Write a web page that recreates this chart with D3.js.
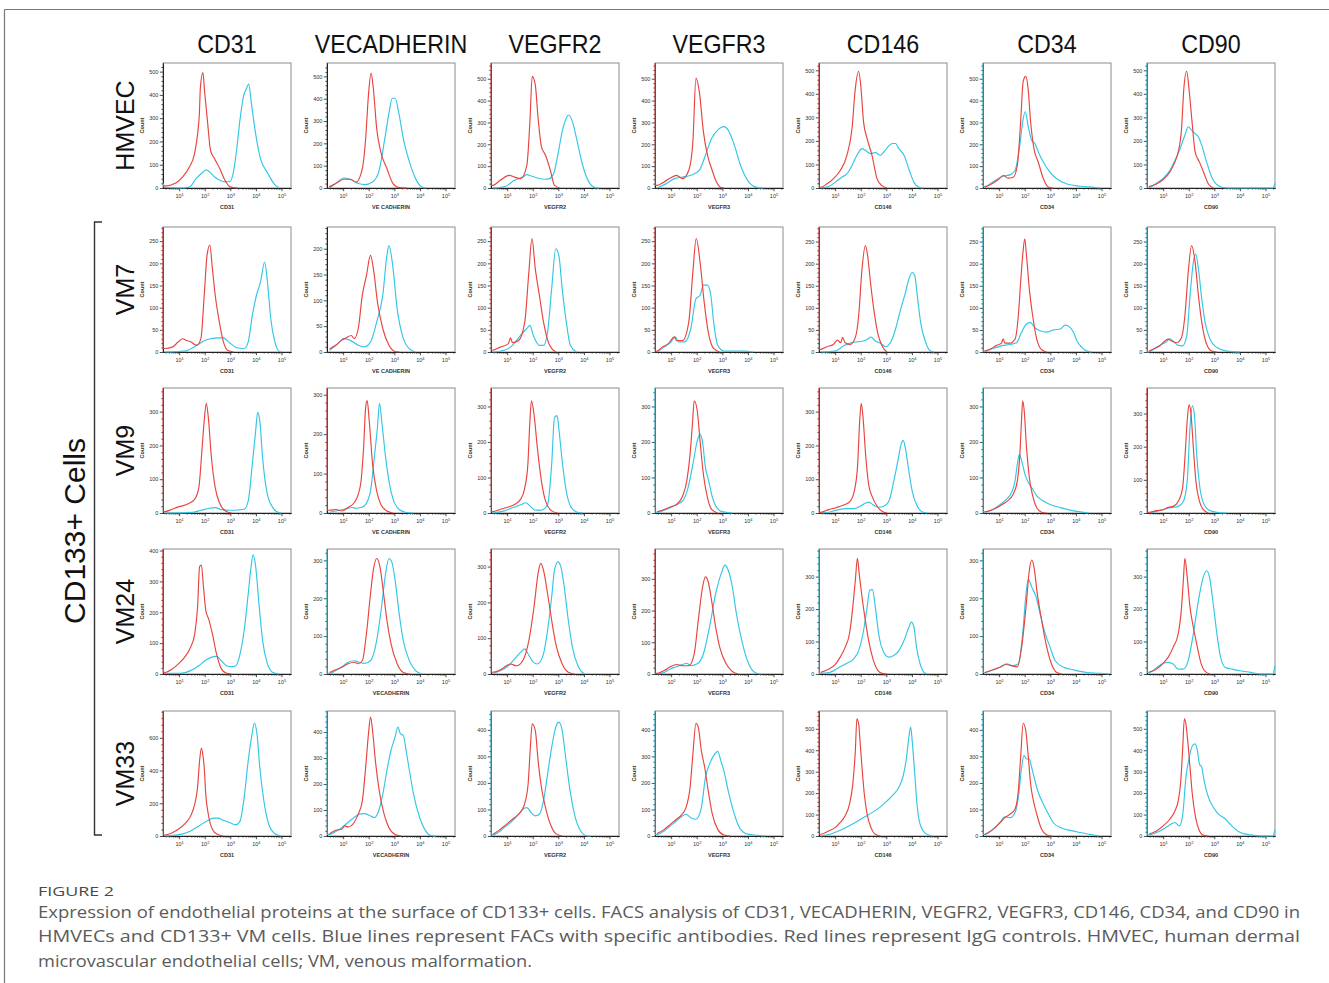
<!DOCTYPE html>
<html><head><meta charset="utf-8">
<script src="https://cdn.jsdelivr.net/npm/d3@7"></script>
<style>body{margin:0;background:#fff}svg{display:block}</style>
</head><body>
<svg id="chart" width="1329" height="983"></svg>
<script>
// ---------- DATA ----------
const markers = ["CD31","VECADHERIN","VEGFR2","VEGFR3","CD146","CD34","CD90"];
const cellLines = ["HMVEC","VM7","VM9","VM24","VM33"];
const axisTitles = [
  ["CD31","VE CADHERIN","VEGFR2","VEGFR3","CD146","CD34","CD90"],
  ["CD31","VE CADHERIN","VEGFR2","VEGFR3","CD146","CD34","CD90"],
  ["CD31","VE CADHERIN","VEGFR2","VEGFR3","CD146","CD34","CD90"],
  ["CD31","VECADHERIN","VEGFR2","VEGFR3","CD146","CD34","CD90"],
  ["CD31","VECADHERIN","VEGFR2","VEGFR3","CD146","CD34","CD90"]
];
const yMaxes = [
  [537,560,572,572,531,572,531],
  [282,242,282,282,283,283,283],
  [370,317,352,352,370,352,377],
  [405,330,349,394,385,330,385],
  [764,481,471,471,583,471,583]
];
const yTickSteps = [
  [100,100,100,100,100,100,100],
  [50,50,50,50,50,50,50],
  [100,100,100,100,100,100,100],
  [100,100,100,100,100,100,100],
  [200,100,100,100,100,100,100]
];
// series whose events pile up off-scale at the left edge (r = IgG, b = antibody)
const leftPileUp = [
  ["","","r","r","r","b","b"],
  ["r","","r","r","r","b","b"],
  ["r","r","r","b","r","b","r"],
  ["r","b","r","r","b","b","b"],
  ["r","b","b","b","r","b","b"]
];
// [log10 fluorescence, count]
const red_HMVEC = [
 [[0.4,12],[0.44,8],[0.87,21],[1.13,47],[1.4,90],[1.6,147],[1.73,240],[1.79,318],[1.83,431],[1.93,496],[1.99,420],[2.1,296],[2.23,160],[2.39,125],[2.59,83],[2.79,33],[2.99,5],[3.3,0]],
 [[0.45,5],[0.71,20],[1.03,39],[1.27,39],[1.51,27],[1.75,87],[1.88,222],[1.99,417],[2.09,515],[2.18,447],[2.31,267],[2.47,162],[2.71,87],[2.95,20],[3.19,2],[3.5,0]],
 [[0.44,12],[0.73,35],[1.08,58],[1.29,50],[1.53,43],[1.77,104],[1.89,304],[1.98,511],[2.1,472],[2.21,319],[2.34,189],[2.5,150],[2.69,81],[2.85,12],[3.06,0]],
 [[0.45,12],[0.73,28],[0.97,46],[1.21,58],[1.45,43],[1.69,81],[1.85,212],[1.97,503],[2.1,442],[2.26,258],[2.42,150],[2.58,89],[2.74,35],[2.9,5],[3.06,0]],
 [[0.44,3],[0.67,17],[0.93,39],[1.2,74],[1.46,139],[1.66,253],[1.79,424],[1.92,496],[2.01,424],[2.11,281],[2.25,210],[2.44,139],[2.64,39],[2.83,10],[3.03,0]],
 [[0.44,3],[0.7,18],[0.96,38],[1.16,57],[1.35,45],[1.55,49],[1.71,103],[1.84,303],[1.94,488],[2.04,511],[2.13,457],[2.23,303],[2.36,180],[2.53,118],[2.73,42],[2.93,3],[3.12,0]],
 [[0.45,6],[0.74,17],[1.0,36],[1.26,67],[1.46,110],[1.59,153],[1.72,253],[1.81,424],[1.92,496],[2.02,410],[2.13,281],[2.25,153],[2.42,110],[2.58,67],[2.77,17],[2.97,0]]
];
const blue_HMVEC = [
 [[0.38,20],[0.42,2],[1.0,0],[1.4,4],[1.66,40],[1.86,61],[2.06,78],[2.2,68],[2.39,47],[2.59,33],[2.79,26],[2.99,28],[3.12,68],[3.25,168],[3.38,296],[3.52,396],[3.62,425],[3.72,446],[3.82,367],[3.98,239],[4.18,125],[4.44,68],[4.71,18],[4.9,0]],
 [[0.47,0],[0.71,20],[1.03,45],[1.27,39],[1.6,20],[1.83,15],[2.15,27],[2.39,72],[2.63,222],[2.79,335],[2.92,402],[3.03,402],[3.19,327],[3.35,222],[3.59,117],[3.83,42],[4.07,5],[4.23,0]],
 [[0.44,0],[0.89,5],[1.29,35],[1.61,50],[1.77,61],[1.94,55],[2.18,46],[2.5,40],[2.66,43],[2.82,66],[2.98,150],[3.15,258],[3.31,319],[3.39,334],[3.55,304],[3.71,227],[3.95,104],[4.19,28],[4.44,2],[4.6,0]],
 [[0.45,0],[0.81,20],[1.13,43],[1.45,50],[1.77,58],[2.1,81],[2.34,150],[2.58,227],[2.82,265],[3.06,281],[3.23,265],[3.47,196],[3.71,104],[4.03,28],[4.35,3],[4.6,0]],
 [[0.44,0],[0.74,6],[1.0,24],[1.26,46],[1.46,60],[1.66,96],[1.85,139],[2.05,167],[2.18,160],[2.38,146],[2.57,150],[2.77,139],[2.9,153],[3.1,179],[3.23,189],[3.36,189],[3.49,167],[3.69,139],[3.88,81],[4.08,24],[4.28,3],[4.41,0]],
 [[0.44,6],[0.7,23],[0.96,42],[1.16,54],[1.42,60],[1.62,80],[1.79,180],[1.92,303],[2.02,349],[2.14,280],[2.27,218],[2.4,203],[2.53,165],[2.73,118],[2.99,72],[3.25,42],[3.65,18],[4.17,8],[4.7,3],[4.96,0]],
 [[0.44,3],[0.74,20],[1.0,41],[1.26,74],[1.46,117],[1.66,167],[1.85,224],[1.98,260],[2.11,246],[2.25,231],[2.38,217],[2.51,181],[2.7,110],[2.9,46],[3.16,10],[3.49,0],[5.28,0],[5.37,20]]
];
const red_VM7 = [
 [[0.44,8],[0.73,11],[0.97,23],[1.13,30],[1.29,26],[1.45,23],[1.69,15],[1.85,30],[1.98,128],[2.09,218],[2.2,241],[2.3,188],[2.41,128],[2.57,68],[2.73,23],[2.89,4],[3.13,0]],
 [[0.47,6],[0.71,13],[0.95,23],[1.11,27],[1.32,32],[1.43,26],[1.59,45],[1.75,110],[1.91,148],[2.07,187],[2.2,155],[2.34,97],[2.55,45],[2.79,13],[3.03,1],[3.2,0]],
 [[0.44,4],[0.73,11],[1.05,19],[1.13,32],[1.21,21],[1.45,26],[1.69,68],[1.85,181],[1.97,256],[2.1,188],[2.26,128],[2.42,68],[2.66,15],[2.9,0]],
 [[0.45,2],[0.65,11],[0.89,19],[1.13,34],[1.21,26],[1.45,26],[1.69,68],[1.85,181],[1.98,256],[2.13,203],[2.29,113],[2.45,45],[2.66,8],[2.9,0]],
 [[0.44,6],[0.67,12],[0.93,17],[1.09,27],[1.22,21],[1.29,33],[1.39,21],[1.59,17],[1.79,33],[1.92,82],[2.05,188],[2.18,241],[2.27,218],[2.38,158],[2.51,97],[2.66,44],[2.83,14],[3.03,0]],
 [[0.44,2],[0.7,8],[0.9,15],[1.09,20],[1.16,30],[1.22,20],[1.42,20],[1.62,29],[1.75,82],[1.84,158],[1.92,218],[2.0,256],[2.07,218],[2.18,143],[2.31,82],[2.47,29],[2.66,5],[2.86,0]],
 [[0.45,2],[0.67,8],[0.87,14],[1.07,25],[1.2,29],[1.33,25],[1.52,21],[1.72,33],[1.85,82],[1.98,180],[2.11,241],[2.25,203],[2.38,127],[2.51,67],[2.68,21],[2.9,2],[3.1,0]]
];
const blue_VM7 = [
 [[0.44,0],[1.2,2],[1.69,15],[2.0,26],[2.25,30],[2.49,32],[2.73,32],[2.97,21],[3.3,9],[3.54,8],[3.7,23],[3.86,83],[4.02,128],[4.18,158],[4.34,203],[4.45,158],[4.58,75],[4.74,23],[4.9,2],[5.0,0]],
 [[0.47,3],[0.79,16],[1.03,26],[1.27,23],[1.59,13],[1.83,10],[2.07,19],[2.31,58],[2.55,110],[2.71,187],[2.79,206],[2.92,174],[3.11,84],[3.35,26],[3.59,6],[3.83,0]],
 [[0.44,0],[0.89,4],[1.21,15],[1.53,38],[1.77,53],[1.89,60],[2.02,38],[2.26,15],[2.42,15],[2.58,45],[2.74,143],[2.9,233],[3.02,218],[3.15,143],[3.31,68],[3.47,15],[3.71,0]],
 [[0.45,0],[0.73,11],[0.97,21],[1.16,34],[1.29,23],[1.53,23],[1.77,53],[1.97,120],[2.13,128],[2.26,151],[2.42,151],[2.55,128],[2.66,68],[2.82,15],[3.06,2],[3.87,2],[4.2,0]],
 [[0.44,0],[1.0,2],[1.33,14],[1.59,20],[1.85,23],[2.11,25],[2.27,29],[2.4,34],[2.57,25],[2.77,20],[2.97,12],[3.16,21],[3.36,52],[3.56,97],[3.75,135],[3.88,165],[4.01,180],[4.11,173],[4.21,127],[4.34,67],[4.54,21],[4.73,2],[4.87,0]],
 [[0.44,2],[0.76,8],[1.09,14],[1.42,17],[1.68,21],[1.84,40],[2.01,59],[2.21,67],[2.4,55],[2.6,48],[2.86,45],[3.12,50],[3.39,52],[3.58,61],[3.78,55],[3.91,44],[4.04,25],[4.24,10],[4.43,2],[4.63,0]],
 [[0.45,0],[0.67,8],[0.93,17],[1.13,23],[1.26,30],[1.39,25],[1.59,15],[1.76,14],[1.92,36],[2.05,127],[2.18,203],[2.27,222],[2.38,188],[2.51,120],[2.64,67],[2.83,29],[3.1,10],[3.49,2],[4.0,0]]
];
const red_VM9 = [
 [[0.44,4],[0.73,11],[0.97,18],[1.13,21],[1.37,28],[1.61,41],[1.77,75],[1.88,174],[1.98,273],[2.06,325],[2.14,283],[2.25,174],[2.41,75],[2.57,31],[2.81,6],[3.05,0]],
 [[0.47,7],[0.71,9],[0.95,5],[1.19,14],[1.43,26],[1.59,47],[1.7,81],[1.8,166],[1.88,268],[1.94,285],[2.02,234],[2.15,124],[2.31,56],[2.47,22],[2.71,5],[2.95,0]],
 [[0.44,4],[0.73,10],[1.05,17],[1.29,24],[1.53,39],[1.69,71],[1.81,137],[1.89,259],[1.95,316],[2.05,278],[2.18,184],[2.34,90],[2.5,34],[2.74,6],[2.98,0]],
 [[0.45,3],[0.73,10],[0.97,17],[1.21,24],[1.45,48],[1.61,90],[1.74,165],[1.84,259],[1.9,316],[2.02,288],[2.13,203],[2.26,109],[2.42,43],[2.58,10],[2.82,0]],
 [[0.44,2],[0.74,10],[1.0,15],[1.2,20],[1.39,25],[1.59,35],[1.75,65],[1.88,144],[1.96,273],[2.02,325],[2.09,283],[2.19,174],[2.31,84],[2.44,50],[2.64,20],[2.83,5],[3.03,0]],
 [[0.44,3],[0.76,10],[1.03,20],[1.29,32],[1.55,53],[1.71,90],[1.81,165],[1.88,269],[1.92,316],[1.98,288],[2.07,184],[2.18,100],[2.31,48],[2.47,15],[2.66,2],[2.86,0]],
 [[0.45,2],[0.74,7],[1.0,10],[1.2,17],[1.39,20],[1.59,35],[1.76,76],[1.86,177],[1.94,278],[2.01,326],[2.09,298],[2.18,197],[2.28,96],[2.42,35],[2.57,10],[2.77,0]]
];
const blue_VM9 = [
 [[0.44,0],[1.53,2],[1.85,8],[2.17,14],[2.41,16],[2.65,10],[2.97,8],[3.3,9],[3.54,11],[3.7,36],[3.86,145],[3.99,244],[4.07,298],[4.15,273],[4.26,164],[4.42,65],[4.66,16],[4.9,1],[5.0,0]],
 [[0.47,2],[0.87,7],[1.19,12],[1.35,14],[1.51,12],[1.7,14],[1.86,20],[2.07,56],[2.23,149],[2.34,217],[2.42,278],[2.52,225],[2.66,141],[2.79,81],[2.95,35],[3.19,9],[3.43,2],[3.75,0]],
 [[0.44,0],[0.89,6],[1.21,15],[1.53,23],[1.73,29],[1.89,20],[2.1,8],[2.34,8],[2.58,24],[2.74,137],[2.85,269],[2.95,274],[3.03,231],[3.15,147],[3.31,62],[3.47,20],[3.71,3],[3.95,0]],
 [[0.45,2],[0.73,8],[0.97,15],[1.21,23],[1.45,34],[1.66,71],[1.85,137],[2.02,203],[2.13,222],[2.23,198],[2.34,128],[2.47,90],[2.58,53],[2.74,20],[2.98,4],[3.39,0]],
 [[0.44,0],[0.8,3],[1.13,10],[1.46,13],[1.72,13],[1.98,20],[2.18,29],[2.31,32],[2.51,23],[2.7,17],[2.9,20],[3.1,35],[3.29,94],[3.45,154],[3.58,204],[3.66,215],[3.75,189],[3.88,124],[4.01,65],[4.21,20],[4.41,3],[4.6,0]],
 [[0.44,3],[0.76,10],[1.03,23],[1.29,39],[1.48,57],[1.62,90],[1.71,137],[1.79,165],[1.88,147],[2.01,109],[2.18,81],[2.31,67],[2.47,48],[2.73,34],[2.99,24],[3.39,15],[3.78,8],[4.17,3],[4.5,0]],
 [[0.45,0],[0.74,5],[1.0,10],[1.2,15],[1.39,17],[1.59,20],[1.79,35],[1.94,96],[2.05,258],[2.14,323],[2.22,298],[2.31,177],[2.42,86],[2.55,35],[2.77,10],[3.1,2],[3.49,0]]
];
const red_VM24 = [
 [[0.44,5],[0.73,16],[0.97,33],[1.21,54],[1.45,87],[1.61,130],[1.72,217],[1.8,348],[1.87,353],[1.95,283],[2.04,207],[2.17,174],[2.3,130],[2.46,65],[2.62,22],[2.81,4],[3.05,0]],
 [[0.47,4],[0.71,11],[0.95,18],[1.19,27],[1.43,31],[1.59,27],[1.75,35],[1.91,106],[2.07,212],[2.18,274],[2.31,305],[2.44,283],[2.58,212],[2.71,142],[2.87,80],[3.11,27],[3.35,4],[3.59,0]],
 [[0.44,5],[0.73,11],[0.97,23],[1.13,28],[1.37,23],[1.61,37],[1.85,94],[2.05,187],[2.21,281],[2.31,309],[2.42,290],[2.58,224],[2.74,150],[2.9,84],[3.15,28],[3.39,5],[3.63,0]],
 [[0.45,2],[0.73,11],[0.97,23],[1.21,30],[1.45,26],[1.69,26],[1.9,63],[2.06,169],[2.23,275],[2.34,306],[2.45,290],[2.58,232],[2.74,148],[2.9,84],[3.15,32],[3.39,8],[3.63,0]],
 [[0.44,5],[0.74,15],[1.0,29],[1.2,52],[1.39,82],[1.56,124],[1.69,206],[1.79,289],[1.87,356],[1.94,309],[2.05,237],[2.18,165],[2.31,103],[2.48,46],[2.66,12],[2.83,2],[3.03,0]],
 [[0.44,4],[0.76,11],[1.03,18],[1.29,25],[1.48,22],[1.71,19],[1.88,71],[2.05,177],[2.18,274],[2.27,301],[2.36,283],[2.49,212],[2.66,142],[2.83,80],[3.02,31],[3.25,4],[3.45,0]],
 [[0.45,5],[0.74,15],[1.0,33],[1.2,52],[1.39,82],[1.59,124],[1.72,206],[1.79,289],[1.85,356],[1.94,299],[2.05,206],[2.18,144],[2.31,93],[2.47,36],[2.64,8],[2.83,0]]
];
const blue_VM24 = [
 [[0.38,18],[0.42,2],[1.05,2],[1.45,11],[1.77,27],[2.01,43],[2.25,54],[2.46,57],[2.65,43],[2.85,27],[3.05,24],[3.22,27],[3.38,65],[3.54,141],[3.7,261],[3.81,348],[3.89,386],[3.99,348],[4.13,217],[4.26,109],[4.45,33],[4.66,5],[4.9,0]],
 [[0.47,2],[0.71,9],[0.95,19],[1.19,31],[1.43,35],[1.64,31],[1.83,28],[2.07,35],[2.31,88],[2.5,177],[2.66,266],[2.79,305],[2.9,296],[3.03,248],[3.19,159],[3.35,88],[3.59,35],[3.83,9],[4.07,0]],
 [[0.44,2],[0.73,9],[1.05,23],[1.29,42],[1.53,61],[1.69,70],[1.82,56],[2.02,33],[2.18,28],[2.42,56],[2.58,122],[2.74,215],[2.85,290],[2.98,313],[3.1,299],[3.23,243],[3.39,150],[3.55,75],[3.79,19],[4.03,0]],
 [[0.45,0],[0.73,5],[0.97,16],[1.21,23],[1.45,30],[1.61,34],[1.77,26],[2.02,32],[2.26,63],[2.5,148],[2.74,253],[2.98,322],[3.1,343],[3.23,327],[3.39,275],[3.55,190],[3.79,95],[4.03,32],[4.27,5],[4.52,0]],
 [[0.44,2],[0.8,5],[1.13,19],[1.46,33],[1.72,46],[1.92,72],[2.09,124],[2.25,206],[2.35,258],[2.46,260],[2.57,206],[2.7,124],[2.9,67],[3.1,52],[3.29,57],[3.49,72],[3.69,103],[3.88,144],[3.98,160],[4.08,144],[4.18,82],[4.32,31],[4.47,5],[4.6,0]],
 [[0.44,4],[0.76,11],[1.03,18],[1.29,27],[1.55,22],[1.75,27],[1.92,106],[2.05,212],[2.14,250],[2.27,230],[2.44,204],[2.6,159],[2.8,106],[2.99,71],[3.19,35],[3.52,18],[3.91,11],[4.43,4],[4.96,2],[5.29,0]],
 [[0.45,5],[0.74,19],[1.0,33],[1.2,36],[1.39,31],[1.59,15],[1.79,15],[1.98,41],[2.18,124],[2.38,227],[2.57,299],[2.7,318],[2.81,299],[2.94,227],[3.1,124],[3.23,57],[3.42,21],[3.69,15],[4.01,10],[4.41,5],[4.8,0],[5.28,0],[5.37,25]]
];
const red_VM33 = [
 [[0.44,6],[0.73,20],[0.97,41],[1.21,72],[1.45,123],[1.61,195],[1.72,297],[1.8,461],[1.87,537],[1.93,492],[1.98,420],[2.04,256],[2.14,133],[2.3,41],[2.49,10],[2.73,0]],
 [[0.47,9],[0.71,22],[0.95,26],[1.06,39],[1.19,35],[1.43,52],[1.59,84],[1.75,135],[1.88,264],[1.99,393],[2.07,458],[2.15,406],[2.26,290],[2.41,174],[2.6,84],[2.79,32],[3.03,6],[3.27,0]],
 [[0.44,6],[0.73,25],[0.97,44],[1.21,63],[1.45,82],[1.66,114],[1.82,196],[1.9,322],[1.98,423],[2.1,398],[2.21,284],[2.34,183],[2.5,107],[2.69,44],[2.9,9],[3.15,0]],
 [[0.45,9],[0.73,25],[0.97,44],[1.21,63],[1.37,76],[1.58,107],[1.74,183],[1.85,309],[1.97,425],[2.06,410],[2.18,322],[2.31,259],[2.45,170],[2.61,82],[2.82,25],[3.06,4],[3.31,0]],
 [[0.44,8],[0.74,23],[1.0,39],[1.2,63],[1.39,94],[1.56,148],[1.69,242],[1.79,398],[1.85,547],[1.92,523],[1.98,430],[2.05,320],[2.14,195],[2.25,102],[2.4,39],[2.57,8],[2.77,0]],
 [[0.44,6],[0.76,25],[1.03,50],[1.22,69],[1.42,82],[1.62,101],[1.75,170],[1.84,297],[1.94,425],[2.04,398],[2.13,309],[2.23,196],[2.34,132],[2.47,82],[2.66,25],[2.86,4],[3.06,0]],
 [[0.45,8],[0.74,23],[1.0,47],[1.26,78],[1.46,117],[1.59,164],[1.69,258],[1.76,398],[1.83,547],[1.89,523],[1.96,445],[2.05,320],[2.14,195],[2.27,86],[2.42,23],[2.57,3],[2.77,0]]
];
const blue_VM33 = [
 [[0.44,0],[1.05,10],[1.45,31],[1.77,61],[2.09,92],[2.33,109],[2.52,109],[2.73,96],[2.97,82],[3.22,68],[3.38,92],[3.54,236],[3.7,461],[3.83,604],[3.94,690],[4.04,625],[4.15,420],[4.31,215],[4.5,72],[4.74,14],[4.98,0]],
 [[0.47,6],[0.71,17],[0.95,32],[1.19,52],[1.43,71],[1.64,84],[1.83,86],[2.07,77],[2.23,71],[2.39,97],[2.55,161],[2.71,252],[2.87,329],[3.03,381],[3.14,419],[3.24,393],[3.35,387],[3.46,329],[3.59,252],[3.75,161],[3.99,71],[4.23,19],[4.47,1],[4.63,0]],
 [[0.44,4],[0.73,19],[0.97,38],[1.21,57],[1.45,82],[1.61,101],[1.77,107],[1.94,88],[2.1,76],[2.26,82],[2.42,132],[2.58,233],[2.74,334],[2.9,410],[3.02,429],[3.15,398],[3.27,309],[3.44,183],[3.63,82],[3.87,19],[4.11,1],[4.27,0]],
 [[0.45,6],[0.73,19],[0.97,38],[1.21,57],[1.45,76],[1.58,82],[1.77,69],[1.97,63],[2.18,107],[2.34,221],[2.5,271],[2.66,303],[2.82,319],[2.94,284],[3.06,246],[3.23,170],[3.47,82],[3.71,25],[4.03,6],[4.35,3],[4.68,0]],
 [[0.44,0],[0.8,8],[1.13,23],[1.46,42],[1.79,63],[2.11,86],[2.44,109],[2.77,136],[3.03,164],[3.29,195],[3.49,227],[3.66,281],[3.79,367],[3.88,461],[3.95,508],[4.01,445],[4.11,289],[4.21,133],[4.34,47],[4.54,11],[4.8,0]],
 [[0.44,6],[0.76,25],[1.03,50],[1.22,72],[1.42,69],[1.62,88],[1.75,145],[1.88,259],[1.97,303],[2.07,290],[2.18,290],[2.27,259],[2.4,208],[2.53,164],[2.73,120],[2.93,82],[3.12,50],[3.39,32],[3.78,21],[4.17,13],[4.56,6],[4.89,0]],
 [[0.45,5],[0.74,16],[1.0,31],[1.26,52],[1.46,63],[1.63,47],[1.76,94],[1.89,273],[2.02,367],[2.15,422],[2.25,430],[2.34,398],[2.42,336],[2.51,320],[2.6,258],[2.77,180],[2.97,133],[3.16,102],[3.36,86],[3.56,63],[3.75,39],[4.01,16],[4.41,5],[4.8,0],[5.28,0],[5.37,30]]
];
const captionHead = "FIGURE 2";
const captionLines = [
  "Expression of endothelial proteins at the surface of CD133+ cells. FACS analysis of CD31, VECADHERIN, VEGFR2, VEGFR3, CD146, CD34, and CD90 in",
  "HMVECs and CD133+ VM cells. Blue lines represent FACs with specific antibodies. Red lines represent IgG controls. HMVEC, human dermal",
  "microvascular endothelial cells; VM, venous malformation."
];
const groupLabel = "CD133+ Cells";

// ---------- LAYOUT / STYLE ----------
const RED = "#e8443f", BLUE = "#33c6e6";
const W = 128, H = 125;
const rowTops = [63, 227, 388, 549, 711];
const colLeft = c => 163 + c * 164;
const LOGMIN = 0.37, LOGMAX = 5.37;
const FONT = "'Liberation Sans', Arial, sans-serif";

const redRows = [red_HMVEC, red_VM7, red_VM9, red_VM24, red_VM33];
const blueRows = [blue_HMVEC, blue_VM7, blue_VM9, blue_VM24, blue_VM33];

const svg = d3.select("#chart");
svg.append("rect").attr("width",1329).attr("height",983).attr("fill","#fff");
const defs = svg.append("defs");

// figure frame lines
svg.append("line").attr("x1",4.5).attr("x2",1329).attr("y1",9.5).attr("y2",9.5).attr("stroke","#777").attr("stroke-width",1.2);
svg.append("line").attr("x1",4.5).attr("x2",4.5).attr("y1",9.5).attr("y2",983).attr("stroke","#777").attr("stroke-width",1.2);

function squeeze(sel, f){
  const n = sel.node(); const len = n.getComputedTextLength();
  sel.attr("textLength", len*f).attr("lengthAdjust","spacingAndGlyphs");
}

// column titles
markers.forEach((m,c)=>{
  const t = svg.append("text").attr("x", colLeft(c)+W/2).attr("y", 53)
    .attr("text-anchor","middle").attr("font-family",FONT).attr("font-size",25).attr("fill","#111").text(m);
  squeeze(t, 0.93);
});
// row labels
cellLines.forEach((r,i)=>{
  svg.append("text").attr("transform",`translate(134,${rowTops[i]+H/2}) rotate(-90)`)
    .attr("text-anchor","middle").attr("font-family",FONT).attr("font-size",25).attr("fill","#111").text(r);
});
// group label and bracket
svg.append("text").attr("transform","translate(85,531) rotate(-90)").attr("text-anchor","middle")
  .attr("font-family",FONT).attr("font-size",30).attr("fill","#111").text(groupLabel);
svg.append("path").attr("d","M102,222H94.5V835H102").attr("fill","none").attr("stroke","#333").attr("stroke-width",1.4);

const xMajor = [1e1,1e2,1e3,1e4,1e5];
const xMinor = [];
for (let e=0;e<=5;e++) for (let k=2;k<=9;k++){ const v=k*Math.pow(10,e); if (Math.log10(v)>LOGMIN && Math.log10(v)<LOGMAX) xMinor.push(v); }

function styleAxis(g){
  g.attr("font-family",FONT).attr("font-size",5.5);
  g.select(".domain").attr("stroke","#222").attr("stroke-width",1);
  g.selectAll(".tick line").attr("stroke","#222").attr("stroke-width",0.8);
  g.selectAll(".tick text").attr("fill","#333");
}

cellLines.forEach((rn,r)=>{
  markers.forEach((mn,c)=>{
    const g = svg.append("g").attr("transform",`translate(${colLeft(c)},${rowTops[r]})`);
    const x = d3.scaleLog().domain([Math.pow(10,LOGMIN),Math.pow(10,LOGMAX)]).range([0,W]);
    const ymax = yMaxes[r][c];
    const y = d3.scaleLinear().domain([0,ymax]).range([H,0]);
    const id = `clip-${r}-${c}`;
    defs.append("clipPath").attr("id",id).append("rect").attr("x",-1).attr("y",0).attr("width",W+2).attr("height",H+1);

    g.append("rect").attr("width",W).attr("height",H).attr("fill","none").attr("stroke","#8c8c8c").attr("stroke-width",1);

    // y axis
    const step = yTickSteps[r][c];
    const majors = d3.range(0, ymax+0.001, step);
    const minors = d3.range(0, ymax, step/5).filter(v => Math.abs(v/step - Math.round(v/step))>1e-6);
    const yMinorG = g.append("g").call(d3.axisLeft(y).tickValues(minors).tickSize(1.6).tickSizeOuter(0).tickFormat(""));
    styleAxis(yMinorG);
    const yG = g.append("g").call(d3.axisLeft(y).tickValues(majors).tickSize(3.2).tickPadding(1.5).tickSizeOuter(0).tickFormat(d3.format("d")));
    styleAxis(yG);

    // x axis
    const xMinorG = g.append("g").attr("transform",`translate(0,${H})`)
      .call(d3.axisBottom(x).tickValues(xMinor).tickSize(1.6).tickSizeOuter(0).tickFormat(""));
    styleAxis(xMinorG);
    const xG = g.append("g").attr("transform",`translate(0,${H})`)
      .call(d3.axisBottom(x).tickValues(xMajor).tickSize(3.2).tickPadding(3).tickSizeOuter(0).tickFormat(()=> "10"));
    styleAxis(xG);
    xG.selectAll(".tick text").each(function(d){
      d3.select(this).append("tspan").attr("dy","-0.5em").attr("font-size",4).text(Math.round(Math.log10(d)));
    });

    // axis titles
    g.append("text").attr("x",W/2).attr("y",H+21).attr("text-anchor","middle")
      .attr("font-family",FONT).attr("font-size",5.5).attr("font-weight","bold").attr("fill","#333").text(axisTitles[r][c]);
    g.append("text").attr("transform",`translate(-19,${H/2}) rotate(-90)`).attr("text-anchor","middle")
      .attr("font-family",FONT).attr("font-size",5.5).attr("font-weight","bold").attr("fill","#333").text("Count");

    // histograms
    const line = d3.line().x(d=>x(Math.pow(10,d[0]))).y(d=>y(d[1])).curve(d3.curveMonotoneX);
    const cg = g.append("g").attr("clip-path",`url(#${id})`);
    [["b",blueRows[r][c],BLUE],["r",redRows[r][c],RED]].forEach(([key,pts,col])=>{
      let data = pts.slice();
      if (leftPileUp[r][c]===key) data = [[LOGMIN, ymax*2],[LOGMIN+0.004, pts[0][1]], ...pts];
      cg.append("path").datum(data).attr("d",line).attr("fill","none").attr("stroke",col).attr("stroke-width",1.15).attr("stroke-linejoin","round");
    });
  });
});

// caption
svg.append("text").attr("x",38).attr("y",896).attr("font-family","'Open Sans', 'Noto Sans', sans-serif")
  .attr("font-size",13.5).attr("fill","#4a4a4a").attr("textLength",76).attr("lengthAdjust","spacingAndGlyphs").text(captionHead);
const capWidths = [1262, 1262, 494];
captionLines.forEach((t,i)=>{
  svg.append("text").attr("x",38).attr("y",918+i*24.3).attr("font-family","'Open Sans', 'Noto Sans', sans-serif")
    .attr("font-size",16.5).attr("fill","#5b5b5b").attr("textLength",capWidths[i]).attr("lengthAdjust","spacingAndGlyphs").text(t);
});
</script>
</body></html>
